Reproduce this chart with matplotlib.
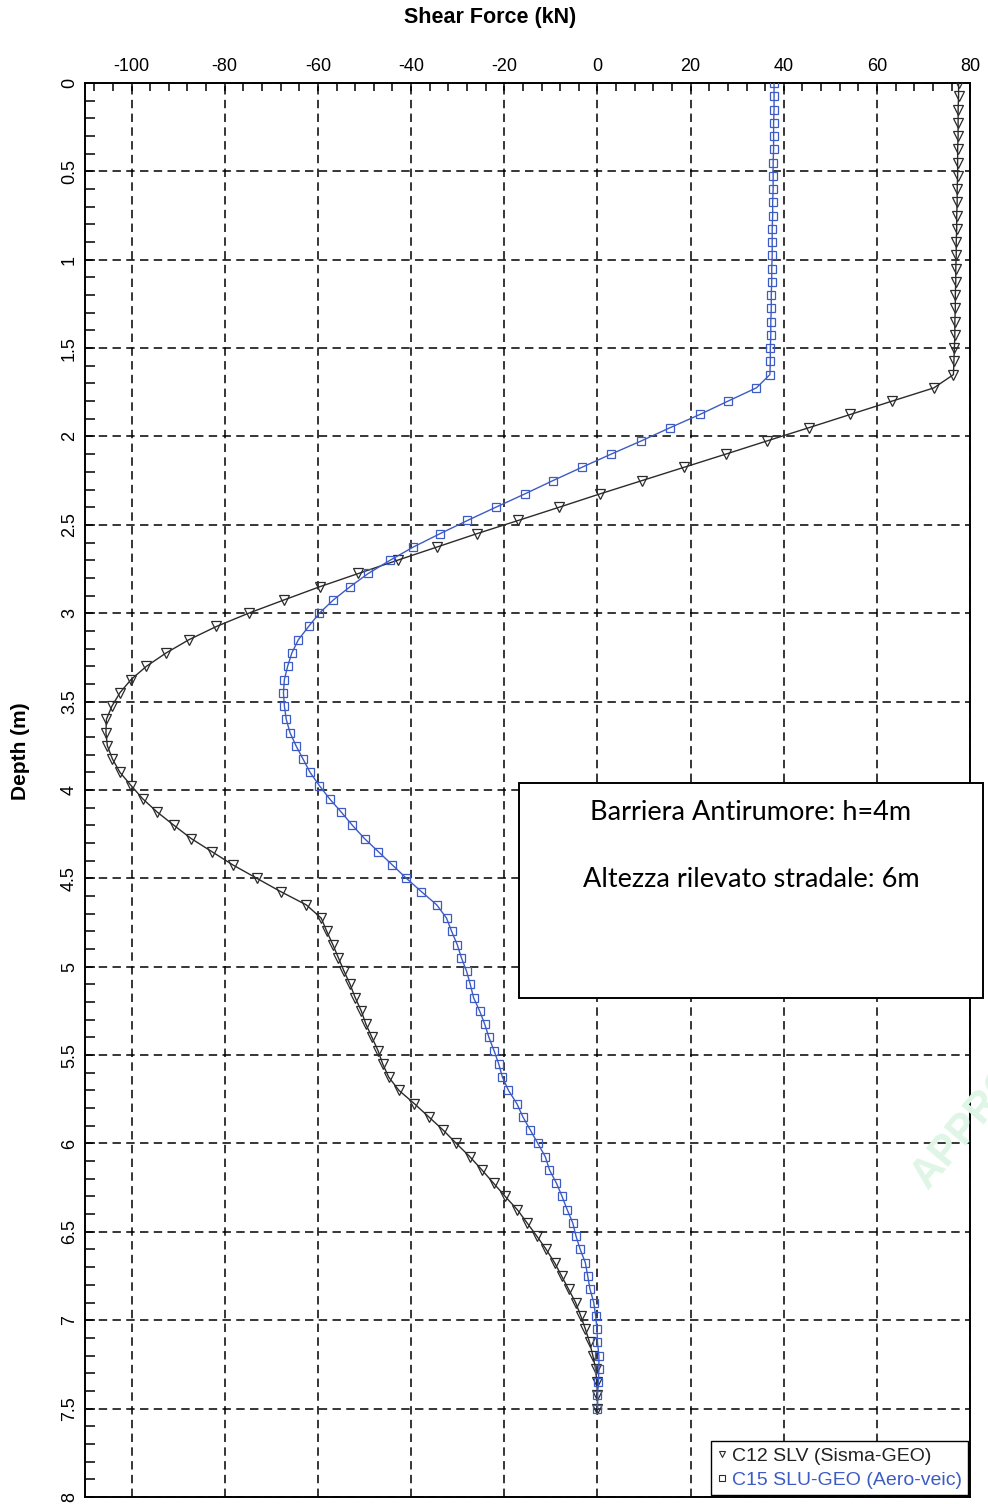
import matplotlib.pyplot as plt
from matplotlib import font_manager
from matplotlib.lines import Line2D
from matplotlib.patches import Rectangle
from matplotlib.ticker import MultipleLocator

# depth stations along the pile (m)
depth = [
    0.0, 0.075, 0.15, 0.225, 0.3, 0.375, 0.45, 0.525, 0.6, 0.675,
    0.75, 0.825, 0.9, 0.975, 1.05, 1.125, 1.2, 1.275, 1.35, 1.425,
    1.5, 1.575, 1.65, 1.725, 1.8, 1.875, 1.95, 2.025, 2.1, 2.175,
    2.25, 2.325, 2.4, 2.475, 2.55, 2.625, 2.7, 2.775, 2.85, 2.925,
    3.0, 3.075, 3.15, 3.225, 3.3, 3.375, 3.45, 3.525, 3.6, 3.675,
    3.75, 3.825, 3.9, 3.975, 4.05, 4.125, 4.2, 4.275, 4.35, 4.425,
    4.5, 4.575, 4.65, 4.725, 4.8, 4.875, 4.95, 5.025, 5.1, 5.175,
    5.25, 5.325, 5.4, 5.475, 5.55, 5.625, 5.7, 5.775, 5.85, 5.925,
    6.0, 6.075, 6.15, 6.225, 6.3, 6.375, 6.45, 6.525, 6.6, 6.675,
    6.75, 6.825, 6.9, 6.975, 7.05, 7.125, 7.2, 7.275, 7.35, 7.425,
    7.5,
]

# shear force, combination C12 SLV (Sisma-GEO), kN
c12_slv = [
    77.5, 77.5, 77.4, 77.4, 77.4, 77.3, 77.3, 77.3, 77.2, 77.2,
    77.1, 77.1, 77.0, 77.0, 76.9, 76.9, 76.8, 76.8, 76.7, 76.7,
    76.6, 76.5, 76.4, 72.2, 63.2, 54.3, 45.4, 36.4, 27.5, 18.5,
    9.5, 0.5, -8.2, -17.0, -25.9, -34.4, -42.9, -51.3, -59.6, -67.3,
    -74.9, -81.8, -87.7, -92.6, -96.8, -100.1, -102.5, -104.2, -105.4, -105.5,
    -105.2, -104.1, -102.5, -100.1, -97.6, -94.5, -90.9, -87.2, -82.7, -78.2,
    -73.1, -68.0, -62.5, -59.3, -58.1, -56.8, -55.6, -54.4, -53.1, -52.0,
    -50.7, -49.7, -48.4, -47.1, -46.1, -44.8, -42.6, -39.3, -36.2, -33.1,
    -30.3, -27.4, -24.8, -22.3, -19.8, -17.2, -15.1, -13.0, -11.0, -9.2,
    -7.7, -6.2, -4.7, -3.6, -2.6, -1.7, -1.0, -0.4, -0.15, 0.0,
    0.0,
]

# shear force, combination C15 SLU-GEO (Aero-veic), kN
c15_slu = [
    37.9, 37.9, 37.9, 37.8, 37.8, 37.8, 37.7, 37.7, 37.7, 37.6,
    37.6, 37.5, 37.5, 37.5, 37.4, 37.4, 37.3, 37.3, 37.2, 37.2,
    37.1, 37.1, 37.0, 34.1, 28.0, 22.0, 15.6, 9.4, 2.9, -3.4,
    -9.6, -15.6, -21.8, -27.9, -33.8, -39.5, -44.5, -49.2, -53.1, -56.7,
    -59.7, -62.0, -64.2, -65.6, -66.5, -67.2, -67.4, -67.2, -66.8, -66.0,
    -64.7, -63.2, -61.7, -59.7, -57.5, -55.0, -52.6, -50.0, -47.0, -44.0,
    -41.0, -37.8, -34.5, -32.4, -31.3, -30.1, -29.2, -28.1, -27.3, -26.6,
    -25.3, -24.2, -23.3, -22.2, -21.2, -20.4, -19.1, -17.3, -16.0, -14.4,
    -12.8, -11.2, -10.3, -8.8, -7.6, -6.5, -5.3, -4.6, -3.7, -2.6,
    -2.1, -1.6, -0.8, -0.4, -0.1, 0.0, 0.3, 0.3, 0.2, 0.0,
    0.0,
]

labels = ["C12 SLV (Sisma-GEO)", "C15 SLU-GEO (Aero-veic)"]
note_lines = ["Barriera Antirumore: h=4m", "Altezza rilevato stradale: 6m"]

BLACK = "#2b2b2b"
BLUE = "#3d5bc4"

plt.rcParams["font.family"] = ["Liberation Sans", "DejaVu Sans"]
plt.rcParams["axes.unicode_minus"] = False

# narrow face for the tick numbers, if it is installed
try:
    font_manager.findfont("Liberation Sans Narrow", fallback_to_default=False)
    tick_font = "Liberation Sans Narrow"
except ValueError:
    tick_font = "Liberation Sans"

fig = plt.figure(figsize=(9.88, 15.04), dpi=100)
ax = fig.add_axes([0.086, 0.0047, 0.896, 0.9401])

ax.plot(c12_slv, depth, color=BLACK, lw=1.0, marker="v", ms=6.5,
        mfc="none", mec=BLACK, mew=0.9, zorder=3)
ax.plot(c15_slu, depth, color=BLUE, lw=1.0, marker="s", ms=5.5,
        mfc="none", mec=BLUE, mew=0.9, zorder=3)

ax.set_xlim(-110, 80)
ax.set_ylim(8, 0)

ax.xaxis.tick_top()
ax.xaxis.set_major_locator(MultipleLocator(20))
ax.xaxis.set_minor_locator(MultipleLocator(4))
ax.yaxis.set_major_locator(MultipleLocator(0.5))
ax.yaxis.set_minor_locator(MultipleLocator(0.1))
ax.yaxis.set_major_formatter(lambda v, pos: f"{v:g}")

ax.tick_params(axis="x", which="both", direction="in", length=5.5, width=1.1,
               top=True, bottom=False, labelsize=13, pad=6,
               labelfontfamily=tick_font)
ax.tick_params(axis="y", which="both", direction="in", length=7, width=1.1,
               left=True, right=False, labelsize=13, pad=5,
               labelfontfamily=tick_font)
for lbl in ax.get_yticklabels():
    lbl.set_rotation(90)
    lbl.set_va("center")

ax.grid(True, which="major", color="black", lw=1.1, ls=(0, (5.5, 3.5)))

for sp in ax.spines.values():
    sp.set_linewidth(1.4)

# axis titles placed on the figure
fig.text(490 / 988, 1 - 18 / 1504, "Shear Force (kN)", ha="center",
         va="center", fontsize=15.5, fontweight="bold")
fig.text(20 / 988, 1 - 751 / 1504, "Depth (m)", ha="center", va="center",
         rotation=90, fontsize=15, fontweight="bold")

handles = [
    Line2D([], [], ls="none", marker="v", ms=5, mfc="none", mec=BLACK, mew=0.8),
    Line2D([], [], ls="none", marker="s", ms=4.5, mfc="none", mec=BLACK, mew=0.8),
]
leg = ax.legend(handles, labels, loc="lower right", fontsize=14,
                handlelength=0.5, handletextpad=0.3, borderpad=0.3,
                labelspacing=0.35, borderaxespad=0.1, fancybox=False,
                edgecolor="black", framealpha=1)
leg.get_frame().set_linewidth(1.0)
leg.get_texts()[0].set_color("#222222")
leg.get_texts()[1].set_color(BLUE)

# note box sitting over the plot area
fig.add_artist(Rectangle((0.5253, 0.3364), 0.4696, 0.143,
                         transform=fig.transFigure, facecolor="white",
                         edgecolor="black", lw=1.4, zorder=5))
fig.text(0.760, 0.460, note_lines[0], ha="center", va="center",
         fontsize=19.5, family="Lato", zorder=6)
fig.text(0.760, 0.4149, note_lines[1], ha="center", va="center",
         fontsize=19.5, family="Lato", zorder=6)

# faint stamp at the right edge
fig.text(0.915, 0.205, "APPROVATO", rotation=50, ha="left", va="bottom",
         fontsize=30, fontweight="bold", color="#dff5e6", zorder=1)

fig.savefig("out.png", dpi=100)
